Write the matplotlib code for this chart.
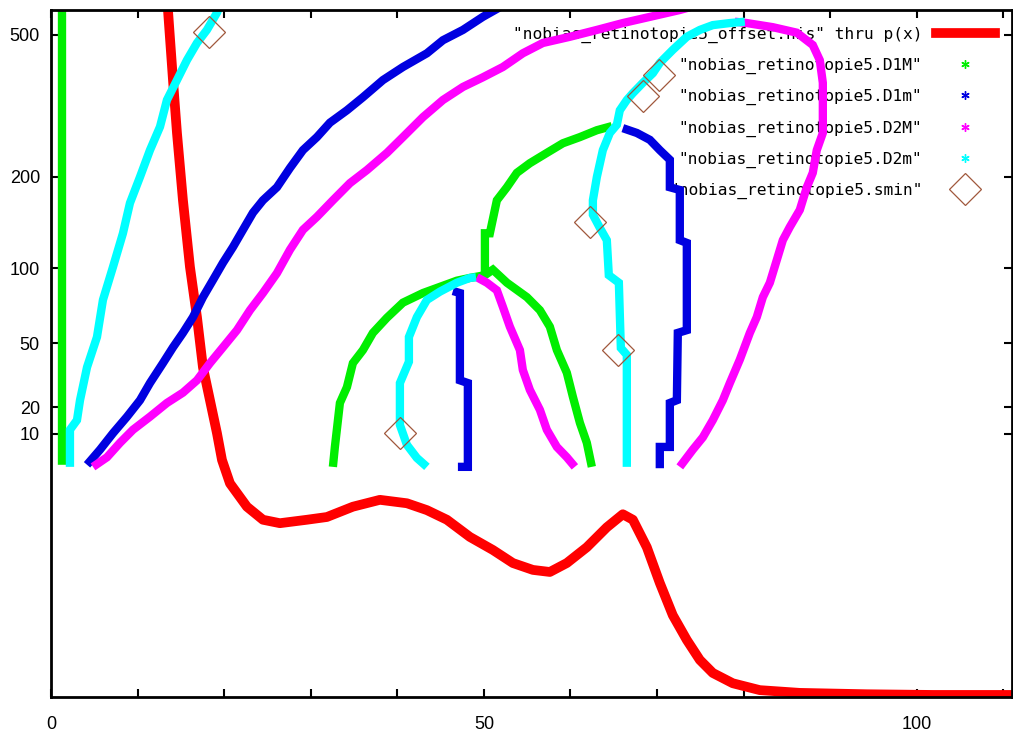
import matplotlib
matplotlib.use('Agg')
import matplotlib.pyplot as plt
import numpy as np
from matplotlib.lines import Line2D

nan = np.nan

# ---------------- data (x in data units, y in axis "level" units 0..100) ----------------
ytick_pos = [96.4, 75.7, 62.4, 51.5, 42.2, 38.3]
ytick_labels = ["500", "200", "100", "50", "20", "10"]
xtick_major = [0, 10, 20, 30, 40, 50, 60, 70, 80, 90, 100, 110]
xtick_labels = ["0", "", "", "", "", "50", "", "", "", "", "100", ""]

# "nobias_retinotopie5_offset.his" thru p(x)
px_x = [12.93, 13.51, 14.09, 14.55, 15.24, 16.05, 16.86, 17.55, 18.36, 19.17, 19.75, 20.67,
        22.63, 24.48, 26.44, 29.56, 31.87, 34.87, 37.99, 41.11, 43.42, 45.73, 48.38, 51.04,
        53.35, 55.66, 57.62, 59.58, 61.89, 64.20, 66.05, 67.21, 68.82, 70.32, 71.82, 73.44,
        74.94, 76.44, 78.75, 81.87, 86.49, 94.23, 101.85, 111.09]
px_y = [101.5, 100.0, 89.8, 82.1, 72.3, 62.6, 55.3, 48.0, 43.2, 38.4, 34.5, 31.1,
        27.7, 25.8, 25.3, 25.8, 26.2, 27.7, 28.7, 28.2, 27.2, 25.8, 23.3, 21.4,
        19.5, 18.5, 18.2, 19.5, 21.8, 24.7, 26.6, 25.8, 21.8, 16.6, 11.9, 8.3,
        5.4, 3.5, 2.0, 1.0, 0.6, 0.4, 0.3, 0.3]

# D1M (green)
d1M_x = [1.27, 1.27, nan,
         32.56, 32.79, 33.37, 34.18, 34.87, 36.03, 37.18, 38.80, 40.65, 42.96, 44.92, 46.88,
         48.38, 50.12, 51.04, 52.66, 54.97, 56.47, 57.62, 58.43, 59.58, 60.28, 61.09, 61.89, 62.47, nan,
         50.12, 50.12, 50.69, 51.50, 52.66, 53.81, 55.31, 57.27, 59.12, 61.09, 63.05, 64.78]
d1M_y = [33.8, 101.5, nan,
         33.5, 36.4, 42.8, 45.1, 48.6, 50.5, 53.0, 55.2, 57.4, 58.8, 59.7, 60.6,
         61.0, 61.4, 62.2, 60.3, 58.2, 56.3, 53.9, 50.5, 47.2, 43.7, 39.9, 37.0, 33.5, nan,
         61.4, 67.5, 67.5, 72.3, 74.2, 76.3, 77.7, 79.2, 80.6, 81.5, 82.5, 83.1]

# D1m (blue)
d1m_x = [4.16, 5.66, 7.16, 8.78, 10.28, 11.43, 12.93, 14.09, 15.24, 16.40, 17.55, 18.71, 19.86,
         21.02, 22.17, 23.33, 24.48, 26.10, 27.60, 29.10, 30.72, 32.22, 34.18, 36.03, 38.34,
         40.65, 43.42, 45.27, 47.58, 49.88, 51.85, nan,
         46.42, 47.23, 47.23, 48.15, 48.15, 47.00, nan,
         66.05, 67.67, 69.17, 70.32, 71.48, 71.48, 72.63, 72.63, 73.44, 73.44, 72.40, 72.29,
         71.48, 71.48, 70.32, 70.32]
d1m_y = [33.8, 36.0, 38.4, 40.8, 43.2, 45.7, 48.6, 50.9, 53.0, 55.3, 58.2, 60.7, 63.2,
         65.5, 68.0, 70.5, 72.3, 74.2, 77.0, 79.6, 81.5, 83.6, 85.4, 87.3, 89.8,
         91.7, 93.7, 95.6, 97.1, 99.0, 100.4, nan,
         59.1, 58.8, 46.1, 45.7, 33.5, 33.5, nan,
         82.8, 82.1, 81.1, 79.6, 78.2, 74.2, 73.8, 66.5, 66.1, 53.4, 53.0, 43.2,
         42.8, 36.4, 36.4, 33.3]

# D2M (magenta)
d2M_x = [4.85, 6.47, 7.97, 9.47, 11.43, 13.39, 15.24, 16.86, 18.36, 19.86, 21.48, 22.98, 24.48,
         26.10, 27.60, 29.10, 30.72, 32.56, 34.53, 36.49, 38.80, 40.65, 42.96, 45.27, 47.58,
         49.88, 52.19, 54.50, 56.81, 59.93, 63.05, 66.05, 69.17, 72.63, 73.79, nan,
         78.98, 80.37, 83.37, 86.14, 87.99, 88.80, 89.15, 89.15, 88.45, 87.99, 87.30, 86.49,
         85.33, 84.53, 83.83, 83.03, 82.22, 81.52, 80.72, 79.56, 78.41, 77.60, 76.44, 75.29,
         74.13, 72.63, nan,
         49.19, 50.35, 51.50, 52.19, 53.00, 54.16, 54.50, 55.31, 56.47, 57.27, 58.43, 59.58, 60.51]
d2M_y = [33.5, 34.9, 37.0, 38.9, 40.8, 42.8, 44.3, 46.1, 48.6, 50.9, 53.4, 56.3, 58.8,
         61.7, 65.1, 68.0, 69.9, 72.3, 74.8, 76.7, 79.2, 81.5, 84.4, 86.9, 88.8,
         90.2, 91.7, 93.7, 95.2, 96.1, 97.1, 98.1, 99.0, 100.0, 100.4, nan,
         98.3, 98.1, 97.5, 96.7, 94.9, 92.7, 89.4, 82.1, 79.6, 76.3, 74.2, 70.9,
         68.4, 66.5, 63.6, 60.3, 58.2, 55.3, 53.0, 49.1, 45.7, 43.2, 40.3, 37.8,
         36.0, 33.5, nan,
         61.1, 60.3, 59.2, 56.8, 53.9, 50.5, 47.6, 44.7, 41.8, 38.9, 36.4, 34.9, 33.5]

# D2m (cyan)
d2m_x = [2.19, 2.19, 3.00, 3.35, 4.16, 5.31, 6.00, 7.16, 8.31, 9.12, 10.28, 11.43, 12.59,
         13.39, 14.55, 15.70, 16.86, 18.01, 19.17, 19.75, nan,
         43.42, 42.26, 41.11, 40.30, 40.30, 41.34, 41.34, 42.26, 43.42, 44.92, 46.88, 48.38, 49.08, nan,
         66.51, 66.51, 65.82, 65.59, 64.43, 64.20, 63.39, 62.59, 62.59, 63.05, 63.74, 64.55,
         65.36, 65.70, 66.51, 67.21, 68.36, 69.52, 70.32, 71.82, 73.44, 74.94, 76.44, 78.41, 80.14]
d2m_y = [33.5, 38.9, 40.3, 43.2, 48.0, 52.4, 57.8, 62.6, 67.5, 71.9, 75.7, 79.6, 83.0,
         86.9, 89.8, 92.7, 95.2, 97.1, 99.6, 101.5, nan,
         33.5, 34.8, 36.7, 39.6, 45.7, 48.8, 52.4, 55.3, 57.8, 59.0, 60.3, 61.0, 61.1, nan,
         33.5, 49.8, 50.8, 60.3, 61.4, 66.5, 68.3, 70.2, 72.3, 75.7, 79.6, 82.1,
         83.3, 85.4, 86.9, 87.9, 89.4, 90.8, 92.3, 94.2, 96.1, 97.1, 97.8, 98.1, 98.3]

# smin (diamonds)
smin_x = [18.24, 40.30, 62.24, 65.47, 68.36, 70.21]
smin_y = [96.8, 38.4, 69.1, 50.5, 87.5, 90.5]

labels = ['"nobias_retinotopie5_offset.his" thru p(x)',
          '"nobias_retinotopie5.D1M"',
          '"nobias_retinotopie5.D1m"',
          '"nobias_retinotopie5.D2M"',
          '"nobias_retinotopie5.D2m"',
          '"nobias_retinotopie5.smin"']

c_red, c_green, c_blue, c_mag, c_cyan, c_brown = '#ff0000', '#00ee00', '#0000e0', '#ff00ff', '#00ffff', '#a0583c'

# ---------------- figure ----------------
fig = plt.figure(figsize=(10.13, 7.36), dpi=100)
ax = fig.add_axes([51/1013, 39/736, 961/1013, 687/736])

lw = 6.0
ax.plot(px_x, px_y, color=c_red, lw=7.0, solid_capstyle='butt', zorder=2)
ax.plot(d1M_x, d1M_y, color=c_green, lw=lw, solid_joinstyle='miter', solid_capstyle='butt', zorder=2)
ax.plot(d1m_x, d1m_y, color=c_blue, lw=lw, solid_joinstyle='miter', solid_capstyle='butt', zorder=2)
ax.plot(d2M_x, d2M_y, color=c_mag, lw=lw, solid_joinstyle='miter', solid_capstyle='butt', zorder=2)
ax.plot(d2m_x, d2m_y, color=c_cyan, lw=lw, solid_joinstyle='miter', solid_capstyle='butt', zorder=2)
ax.plot(smin_x, smin_y, ls='none', marker='D', markersize=16, markerfacecolor='none',
        markeredgecolor=c_brown, markeredgewidth=0.9, zorder=3)

ax.set_xlim(0, 111)
ax.set_ylim(0, 100)
ax.set_xticks(xtick_major)
ax.set_xticklabels(xtick_labels)
ax.set_yticks(ytick_pos)
ax.set_yticklabels(ytick_labels)
ax.tick_params(direction='in', length=6, width=1.5, top=True, right=True,
               labelsize=13, colors='black')
ax.tick_params(axis='x', pad=14)
ax.tick_params(axis='y', pad=8)
for lab in ax.get_xticklabels() + ax.get_yticklabels():
    lab.set_family('Liberation Sans')
for sp in ax.spines.values():
    sp.set_linewidth(2.0)

handles = [Line2D([], [], color=c_red, lw=7.0),
           Line2D([], [], ls='none', marker=(6, 2, 0), markersize=6, color=c_green, mew=1.0),
           Line2D([], [], ls='none', marker=(6, 2, 0), markersize=6, color=c_blue, mew=1.0),
           Line2D([], [], ls='none', marker=(6, 2, 0), markersize=6, color=c_mag, mew=1.0),
           Line2D([], [], ls='none', marker=(6, 2, 0), markersize=6, color=c_cyan, mew=1.0),
           Line2D([], [], ls='none', marker='D', markersize=16, markerfacecolor='none',
                  markeredgecolor=c_brown, mew=0.9)]
leg = ax.legend(handles, labels, loc='upper right', bbox_to_anchor=(0.982, 0.976),
                frameon=False, markerfirst=False, borderpad=0, borderaxespad=0,
                handlelength=3.6, handletextpad=0.85, labelspacing=0.93,
                prop={'family': 'DejaVu Sans Mono', 'size': 11.7})
try:
    for col in leg._legend_handle_box.get_children():
        col.align = 'right'
except Exception:
    pass
leg.set_zorder(1)

fig.savefig('out.png', dpi=100)
